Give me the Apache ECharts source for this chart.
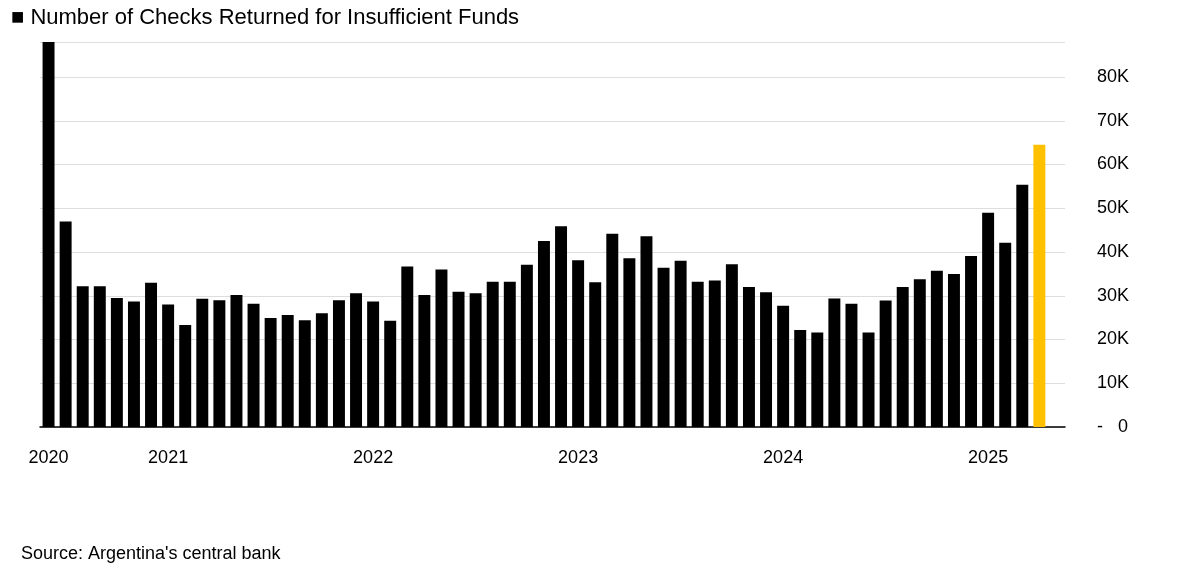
<!DOCTYPE html>
<html>
<head>
<meta charset="utf-8">
<title>Checks Returned</title>
<script src="https://cdn.jsdelivr.net/npm/echarts@6/dist/echarts.min.js"></script>
<style>
  body { margin: 0; background: #fff; font-family: Arial, "Liberation Sans", sans-serif; }
  #chart { width: 1200px; height: 582px; }
</style>
</head>
<body>
<div id="chart"></div>
<script>
// Jun 2020 .. Apr 2025, monthly
var months = [];
for (var y = 2020; y <= 2025; y++) {
    for (var m = 1; m <= 12; m++) {
        if (y === 2020 && m < 6) continue;
        if (y === 2025 && m > 4) continue;
        months.push(y + '-' + (m < 10 ? '0' + m : m));
    }
}
var checks = [
    88000, 47000, 32200, 32200, 29500, 28700, 33000,
    28000, 23300, 29300, 29000, 30200, 28200, 24900, 25600, 24400, 26000, 29000, 30600,
    28700, 24300, 36700, 30200, 36000, 30900, 30600, 33200, 33200, 37100, 42500, 45900,
    38100, 33100, 44200, 38600, 43600, 36400, 38000, 33200, 33500, 37200, 32000, 30800,
    27700, 22200, 21600, 29400, 28200, 21600, 28900, 32000, 33800, 35700, 35000, 39100,
    49000, 42100, 55400, 64500
];
var yTicks = [0, 10000, 20000, 30000, 40000, 50000, 60000, 70000, 80000];

function isYearStart(i) { var v = months[i]; return i === 0 || (v && v.slice(5) === '01'); }

var chart = echarts.init(document.getElementById('chart'));
chart.setOption({
    animation: false,
    title: [
        { text: '\u25A0 Number of Checks Returned for Insufficient Funds', left: 6, top: 2,
          textStyle: { fontSize: 22, fontWeight: 'normal', color: '#000', fontFamily: 'Arial, Liberation Sans' } },
        { text: "Source: Argentina's central bank", left: 16, top: 540,
          textStyle: { fontSize: 18, fontWeight: 'normal', color: '#000', fontFamily: 'Arial, Liberation Sans' } }
    ],
    grid: { left: 40, right: 135, top: 42, bottom: 155 },
    xAxis: {
        type: 'category',
        data: months,
        max: months.length,
        boundaryGap: true,
        axisLine: { lineStyle: { color: '#000', width: 1.5 } },
        axisTick: {
            alignWithLabel: true, length: 6, lineStyle: { color: '#000' },
            interval: function (i) { return isYearStart(i); }
        },
        axisLabel: {
            fontSize: 18, color: '#000', margin: 22,
            interval: function (i) { return isYearStart(i); },
            formatter: function (v) { return v ? v.slice(0, 4) : ''; }
        }
    },
    yAxis: {
        type: 'value', position: 'right', min: 0, max: 88000, interval: 10000,
        axisLine: { show: false }, axisTick: { show: false },
        splitLine: { lineStyle: { color: '#ddd' } },
        axisLabel: {
            fontSize: 18, color: '#000', margin: 32, align: 'left',
            showMaxLabel: false,
            formatter: function (v) {
                if (yTicks.indexOf(v) < 0) return '';
                return v === 0 ? '-   0' : (v / 1000) + 'K';
            }
        }
    },
    series: [{
        type: 'bar',
        data: checks.map(function (v, i) {
            return { value: v, itemStyle: { color: i === checks.length - 1 ? '#ffc000' : '#000' } };
        }),
        barCategoryGap: '30%'
    }]
});
</script>
</body>
</html>
